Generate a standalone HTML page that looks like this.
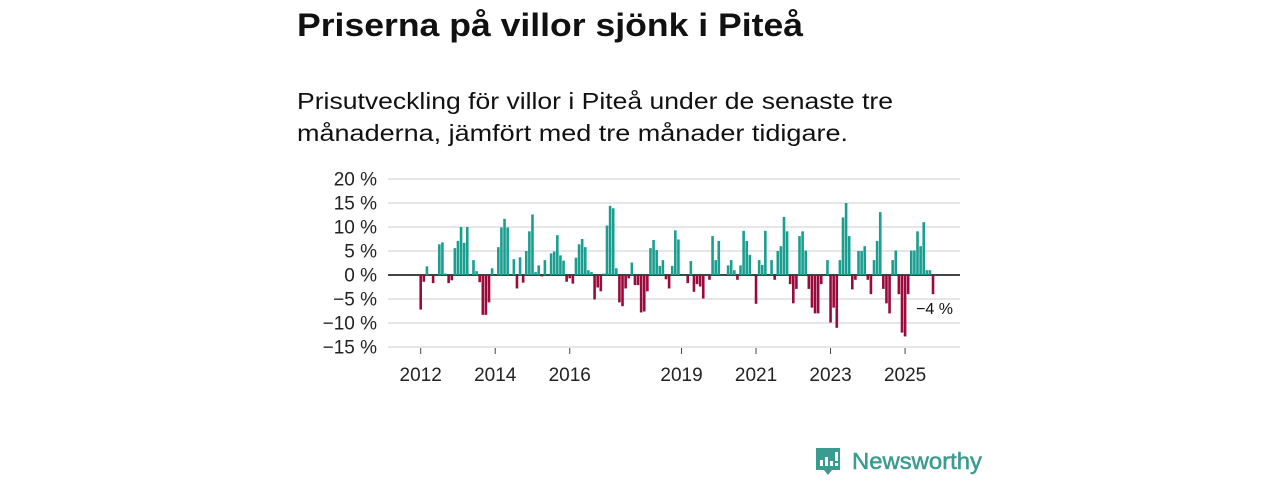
<!DOCTYPE html>
<html><head><meta charset="utf-8"><style>
body{margin:0;background:#fff;width:1280px;height:480px;overflow:hidden;font-family:"Liberation Sans",sans-serif}
</style></head><body>
<svg width="1280" height="480" xmlns="http://www.w3.org/2000/svg">
<text x="297" y="36" font-family="Liberation Sans, sans-serif" font-weight="bold" font-size="32" fill="#111" textLength="506" lengthAdjust="spacingAndGlyphs">Priserna på villor sjönk i Piteå</text>
<text x="297" y="109" font-family="Liberation Sans, sans-serif" font-size="23" fill="#111" textLength="596" lengthAdjust="spacingAndGlyphs">Prisutveckling för villor i Piteå under de senaste tre</text>
<text x="297" y="141" font-family="Liberation Sans, sans-serif" font-size="23" fill="#111" textLength="551" lengthAdjust="spacingAndGlyphs">månaderna, jämfört med tre månader tidigare.</text>
<g id="grid"></g><g id="bars"></g><g id="axes"></g>
<text x="953" y="314" text-anchor="end" font-family="Liberation Sans, sans-serif" font-size="16" fill="#111">−4 %</text>
<g>
<path d="M816 448h24v22h-8l-4 5l-4-5h-8z" fill="#3a9c90"/>
<rect x="820" y="460" width="3" height="6" fill="#fff"/><rect x="825" y="457" width="3" height="9" fill="#fff"/><rect x="830" y="461" width="3" height="5" fill="#fff"/><rect x="835" y="452" width="3" height="9" fill="#fff"/><rect x="835" y="463" width="3" height="3" fill="#fff"/>
<text x="852" y="469" font-family="Liberation Sans, sans-serif" font-size="23" fill="#3a9c90" stroke="#3a9c90" stroke-width="0.5" textLength="130" lengthAdjust="spacingAndGlyphs">Newsworthy</text>
</g>
</svg>
<script>
const yTicks=[20,15,10,5,0,-5,-10,-15];
const yearLabels=[2012,2014,2016,2019,2021,2023,2025];
const monthIdx=[0,1,2,4,6,7,8,9,10,11,12,13,14,15,17,18,19,20,21,22,23,25,26,27,28,30,31,32,33,34,35,36,37,38,39,40,42,43,44,45,46,47,48,49,50,51,52,53,54,55,56,57,58,59,60,61,62,63,64,65,66,67,68,69,70,71,72,73,74,75,76,77,78,79,80,81,82,83,86,87,88,89,90,91,93,94,95,96,99,100,101,102,103,104,105,106,108,109,110,111,113,114,115,116,117,118,119,120,121,122,123,124,125,126,127,128,129,131,132,133,134,135,136,137,138,139,140,141,142,143,144,145,146,147,148,149,150,151,152,153,154,155,156,157,158,159,160,161,162,163,164,165];
const values=[-7.2,-1.4,1.8,-1.7,6.4,6.8,0.3,-1.7,-1.1,5.6,7.1,10,6.7,10,3.1,0.8,-1.5,-8.3,-8.3,-5.7,1.4,5.8,9.9,11.7,9.9,3.3,-2.8,3.7,-1.6,5,9.1,12.6,0.6,2,-0.3,3.1,4.5,4.9,8.3,4.1,3,-1.4,-0.7,-1.8,3.6,6.4,7.5,5.8,1,0.6,-5.1,-2.6,-3.4,0.3,10.3,14.4,13.9,1.4,-5.7,-6.5,-2.8,-0.7,2.6,-2.1,-2.1,-7.8,-7.6,-3.4,5.6,7.3,5.2,1.9,3.1,-0.9,-2.8,1.9,9.3,7.4,-1.7,2.9,-3.5,-1.9,-2.4,-4.9,-1,8.1,3.1,7.1,2,3.1,1,-1,2,9.2,7.1,4.2,-6,3.1,2.1,9.2,3.1,-1,5,6,12.1,9.1,-1.9,-5.9,-2.9,8.1,9.1,5.1,-2.9,-6.8,-8,-8,-1.9,3.1,-9.9,-6.8,-11,3.1,12,15,8.1,-3,-1,5,5,6,-1,-4,3.1,7.1,13.1,-2.9,-5.9,-8,3.1,5.1,-4,-12,-12.8,-4,5.1,5.1,9.1,6,11,1,1,-4];
const NS='http://www.w3.org/2000/svg';
const y0=275,ppu=4.8,x0=420.7,pitch=3.105;
const ys=v=>y0-v*ppu, xs=m=>x0+m*pitch;
const grid=document.getElementById('grid'),bars=document.getElementById('bars'),axes=document.getElementById('axes');
function mk(tag,attrs,parent){const e=document.createElementNS(NS,tag);for(const k in attrs)e.setAttribute(k,attrs[k]);parent.appendChild(e);return e;}
yTicks.forEach(t=>{
 const l=mk('line',{x1:388,x2:960,y1:ys(t),y2:ys(t),stroke:t===0?'#444':'#ddd','stroke-width':t===0?2:1.5},grid);
 
 
 const tx=mk('text',{x:377,y:ys(t)+6.5,'text-anchor':'end','font-size':19,fill:'#222','font-family':'Liberation Sans, sans-serif'},axes);
 tx.textContent=(t<0?'−'+(-t):t)+' %';
 
 
});
values.forEach((v,i)=>{
 const x=xs(monthIdx[i]);
 const r=mk('rect',{x:x-1.3,width:2.6,y:Math.min(ys(v),y0),height:Math.abs(v*ppu),fill:v>=0?'#1a9e90':'#9b0a3c'},bars);
 
 
});
yearLabels.forEach(yr=>{
 const x=xs((yr-2012)*12);
 const tk=mk('line',{x1:x,x2:x,y1:348,y2:354,stroke:'#444','stroke-width':1},axes);
 
 
 const tx=mk('text',{x:x,y:381,'text-anchor':'middle','font-size':19,fill:'#222','font-family':'Liberation Sans, sans-serif'},axes);
 tx.textContent=yr;
 
 
});
</script>
</body></html>
